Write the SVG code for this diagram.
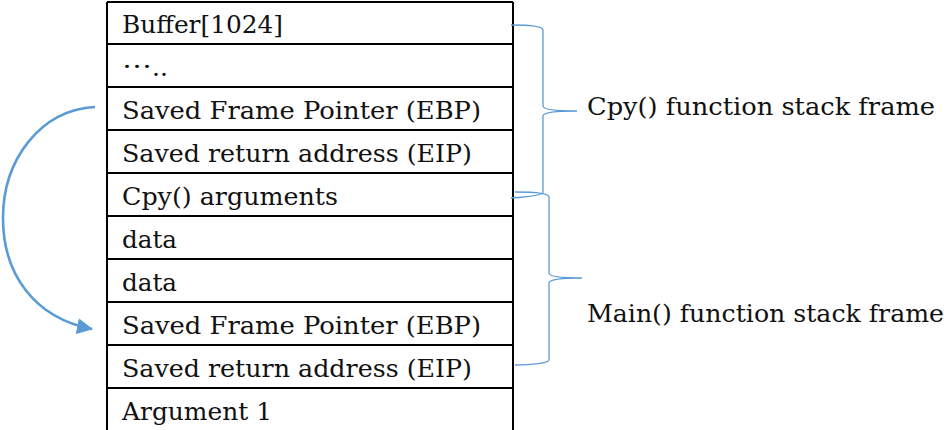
<svg xmlns="http://www.w3.org/2000/svg" width="944" height="430" viewBox="0 0 944 430">
  <style>
    .cell { font-family: "DejaVu Serif", "Liberation Serif", serif; font-size: 24px; fill: #111; }
    .grid { stroke: #000; stroke-width: 2; fill: none; }
    .brace { stroke: #5B9BD5; stroke-width: 1.3; fill: none; }
    .arrow { stroke: #5B9BD5; stroke-width: 2.6; fill: none; }
  </style>
  <defs>
    <marker id="head" markerUnits="userSpaceOnUse" markerWidth="18" markerHeight="16" refX="15" refY="8" orient="auto">
      <path d="M0,0 L16,8 L0,16 Z" fill="#5B9BD5"/>
    </marker>
  </defs>
  <rect width="944" height="430" fill="#fff"/>

  <!-- stack table -->
  <g id="stack">
    <path class="grid" d="M107,2 V430 M513,2 V430 M107,2 H513 M107,44 H513 M107,87 H513 M107,130 H513 M107,173 H513 M107,216 H513 M107,259 H513 M107,302 H513 M107,345 H513 M107,388 H513"/>
  </g>
  <g id="row-buffer"><text class="cell" x="122" y="33" textLength="161" lengthAdjust="spacingAndGlyphs">Buffer[1024]</text></g>
  <g id="row-ellipsis"><text class="cell" x="122" y="76"><tspan dy="-8" textLength="30" lengthAdjust="spacingAndGlyphs">…</tspan><tspan dy="8" textLength="16" lengthAdjust="spacingAndGlyphs">..</tspan></text></g>
  <g id="row-cpy-ebp"><text class="cell" x="122" y="119" textLength="359" lengthAdjust="spacingAndGlyphs">Saved Frame Pointer (EBP)</text></g>
  <g id="row-cpy-eip"><text class="cell" x="122" y="162" textLength="350" lengthAdjust="spacingAndGlyphs">Saved return address (EIP)</text></g>
  <g id="row-cpy-args"><text class="cell" x="122" y="205" textLength="216" lengthAdjust="spacingAndGlyphs">Cpy() arguments</text></g>
  <g id="row-data1"><text class="cell" x="122" y="248" textLength="55" lengthAdjust="spacingAndGlyphs">data</text></g>
  <g id="row-data2"><text class="cell" x="122" y="291" textLength="55" lengthAdjust="spacingAndGlyphs">data</text></g>
  <g id="row-main-ebp"><text class="cell" x="122" y="334" textLength="359" lengthAdjust="spacingAndGlyphs">Saved Frame Pointer (EBP)</text></g>
  <g id="row-main-eip"><text class="cell" x="122" y="377" textLength="350" lengthAdjust="spacingAndGlyphs">Saved return address (EIP)</text></g>
  <g id="row-arg1"><text class="cell" x="122" y="420" textLength="150" lengthAdjust="spacingAndGlyphs">Argument 1</text></g>

  <!-- frame labels -->
  <g id="label-cpy"><text class="cell" x="587" y="115" textLength="348" lengthAdjust="spacingAndGlyphs">Cpy() function stack frame</text></g>
  <g id="label-main"><text class="cell" x="587" y="322" textLength="357" lengthAdjust="spacingAndGlyphs">Main() function stack frame</text></g>

  <!-- connectors: braces and saved-EBP link -->
  <g id="connectors">
    <path class="brace" d="M511,25 C528,25 543,26 543,30 L543,106 C543,109 552,111 577,111 C552,111 543,113 543,116 L543,192 C543,195 528,197 511,198"/>
    <path class="brace" d="M515,192 C532,192 549,193 549,197 L549,273 C549,276 558,278 582,278 C558,278 549,280 549,283 L549,360 C549,363 532,365 515,365"/>
    <path class="arrow" marker-end="url(#head)" d="M95,107 C40,110 3,160 3,218 C3,275 35,318 92,329"/>
  </g>
</svg>
